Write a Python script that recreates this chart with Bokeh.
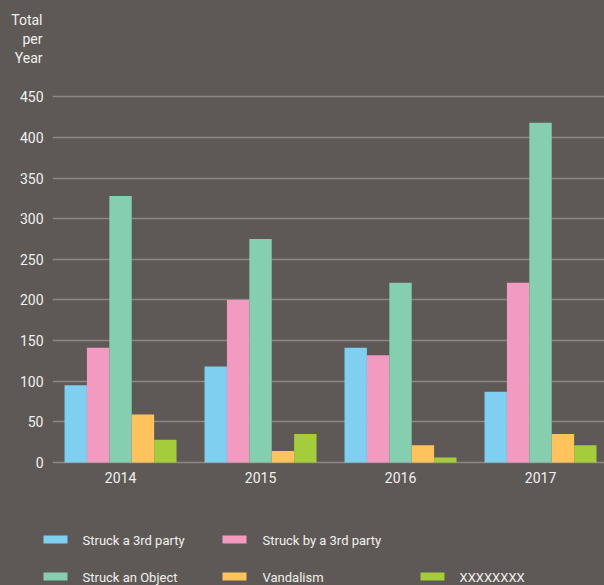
from bokeh.plotting import figure
from bokeh.models import Range1d, FixedTicker, ColumnDataSource
from bokeh.core.properties import value
from bokeh.embed import file_html
from bokeh.resources import INLINE

years = ["2014", "2015", "2016", "2017"]
series = ["Struck a 3rd party", "Struck by a 3rd party", "Struck an Object", "Vandalism", "XXXXXXXX"]
struck_3rd = [95, 118, 141, 87]
struck_by_3rd = [141, 200, 132, 221]
struck_object = [328, 275, 221, 418]
vandalism = [59, 14, 21, 35]
xxx = [28, 35, 6, 21]
values = [struck_3rd, struck_by_3rd, struck_object, vandalism, xxx]
colors = ["#7ecff0", "#f39ac0", "#85ceb0", "#fec35c", "#a5cc3a"]
yticks = list(range(0, 451, 50))
title_lines = ["Total", "per", "Year"]

BG = "#5e5956"
GRID = "#8d8884"
TXT = "#f2f0ee"
FONT = "Roboto"

W = 604


def strip(h):
    f = figure(width=W, height=h, x_range=Range1d(0, W), y_range=Range1d(h, 0),
               toolbar_location=None, output_backend="svg", min_border=0)
    f.axis.visible = False
    f.grid.visible = False
    f.outline_line_color = None
    f.background_fill_color = BG
    f.border_fill_color = BG
    f.styles = {"background-color": BG}
    return f


# --- title strip ---
t = strip(80)
t.text(x=[42, 42, 42], y=[19, 38, 57], text=title_lines,
       text_align="right", text_baseline="middle", text_color=TXT,
       text_font=value(FONT), text_font_size="14px")

# --- main chart ---
p = figure(width=W, height=420, x_range=Range1d(-0.486, 3.457), y_range=Range1d(-5, 470),
           toolbar_location=None, output_backend="svg",
           min_border_left=52, min_border_right=0, min_border_top=0, min_border_bottom=34)
p.background_fill_color = BG
p.border_fill_color = BG
p.outline_line_color = None
p.styles = {"background-color": BG}

step = 0.16
xs = list(range(len(years)))
for i, (vals, col) in enumerate(zip(values, colors)):
    off = (i - 2) * step
    src = ColumnDataSource(dict(x=[x + off for x in xs], top=vals))
    p.vbar(x="x", top="top", bottom=0, width=step, source=src,
           fill_color=col, line_color=None)

p.xgrid.visible = False
p.ygrid.ticker = FixedTicker(ticks=yticks)
p.ygrid.grid_line_color = GRID
p.ygrid.grid_line_width = 1.5
p.ygrid.level = "underlay"

for ax in (p.xaxis, p.yaxis):
    ax.axis_line_color = None
    ax.major_tick_line_color = None
    ax.minor_tick_line_color = None
    ax.major_tick_out = 0
    ax.major_tick_in = 0
    ax.minor_tick_out = 0
    ax.minor_tick_in = 0
    ax.major_label_text_color = TXT
    ax.major_label_text_font = FONT
    ax.major_label_text_font_size = "14px"

p.yaxis.ticker = FixedTicker(ticks=yticks)
p.yaxis.major_label_standoff = 9

p.xaxis.ticker = FixedTicker(ticks=xs)
p.xaxis.major_label_overrides = {i: y for i, y in enumerate(years)}
p.xaxis.major_label_standoff = 5

# --- legend strip ---
l = strip(85)
sw_x = [55, 234, 55, 234, 432]
sw_y = [39, 39, 76, 76, 76]
tx_x = [82, 262, 82, 262, 459]
l.rect(x=sw_x, y=sw_y, width=24, height=8, fill_color=colors, line_color=None)
l.text(x=tx_x, y=[d + 1 for d in sw_y], text=series, text_align="left",
       text_baseline="middle", text_color=TXT, text_font=value(FONT),
       text_font_size="13px")

html = file_html([t, p, l], INLINE)
html = html.replace("<body>", '<body style="margin:0;background:%s;">' % BG, 1)
open("out.html", "w").write(html)
